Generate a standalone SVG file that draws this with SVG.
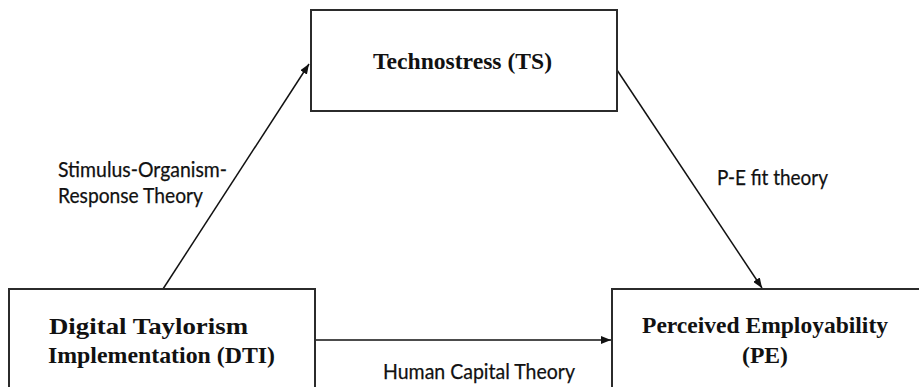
<svg xmlns="http://www.w3.org/2000/svg" width="919" height="387" viewBox="0 0 919 387">
<style>
.box{fill:#fff;stroke:#2b2b2b;stroke-width:2}
.t{font-family:"Liberation Serif","Times New Roman",serif;font-weight:bold;font-size:24px;fill:#111}
.l{font-family:Lato,"Liberation Sans",sans-serif;font-size:21px;fill:#111;stroke:#111;stroke-width:0.25}
.c{stroke:#111;stroke-width:1.5;fill:none;marker-end:url(#ah)}
</style>
<defs>
<marker id="ah" markerUnits="userSpaceOnUse" markerWidth="10" markerHeight="8" refX="10" refY="4" orient="auto">
<path d="M0,0 L10,4 L0,8 z" fill="#111"/>
</marker>
</defs>
<rect width="919" height="387" fill="#fff"/>
<g id="connectors">
<line class="c" x1="163" y1="289" x2="309" y2="64"/>
<line class="c" x1="617" y1="70" x2="762" y2="288"/>
<line class="c" x1="316" y1="340" x2="611" y2="340"/>
</g>
<g id="node-ts">
<rect class="box" x="311" y="10" width="306" height="101"/>
<text class="t" x="373" y="69" textLength="179" lengthAdjust="spacingAndGlyphs">Technostress (TS)</text>
</g>
<g id="node-dti">
<rect class="box" x="9" y="289" width="306" height="110"/>
<text class="t" x="49" y="334" textLength="199" lengthAdjust="spacingAndGlyphs">Digital Taylorism</text>
<text class="t" x="48" y="363" textLength="227" lengthAdjust="spacingAndGlyphs">Implementation (DTI)</text>
</g>
<g id="node-pe">
<rect class="box" x="612" y="289" width="310" height="110"/>
<text class="t" x="642" y="333" textLength="246" lengthAdjust="spacingAndGlyphs">Perceived Employability</text>
<text class="t" x="742" y="363" textLength="46" lengthAdjust="spacingAndGlyphs">(PE)</text>
</g>
<g id="labels">
<text class="l" x="58" y="177" textLength="169" lengthAdjust="spacingAndGlyphs">Stimulus-Organism-</text>
<text class="l" x="58" y="203" textLength="145" lengthAdjust="spacingAndGlyphs">Response Theory</text>
<text class="l" x="717" y="185" textLength="111" lengthAdjust="spacingAndGlyphs">P-E fit theory</text>
<text class="l" x="383" y="379" textLength="192" lengthAdjust="spacingAndGlyphs">Human Capital Theory</text>
</g>
</svg>
